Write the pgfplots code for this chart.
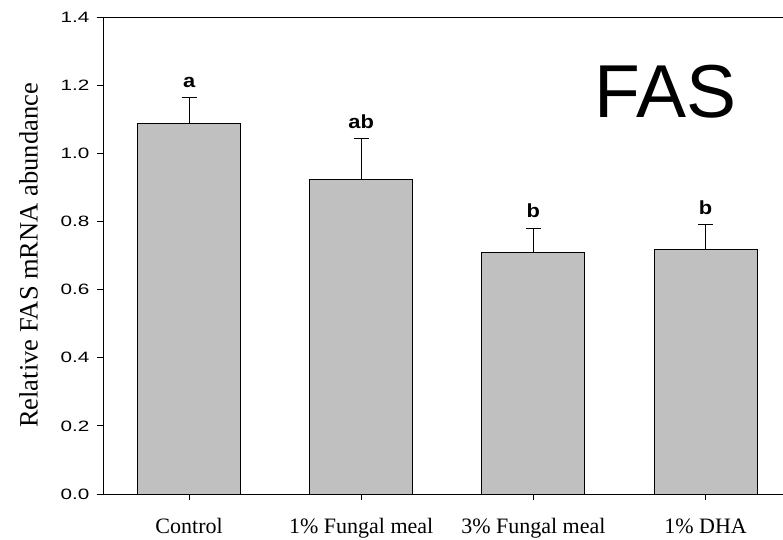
\documentclass[border=0pt]{standalone}
\usepackage{fontspec}
\setmainfont{Liberation Sans}
\newfontfamily\timesf{Liberation Serif}
\usepackage{graphicx}
\usepackage{pgfplots}
\pgfplotsset{compat=1.18}
\definecolor{barfill}{RGB}{192,192,192}
\newcommand\widen[1]{\scalebox{1.38}[1]{#1}}
\begin{document}
\begin{tikzpicture}
\begin{axis}[
  at={(0,0)}, anchor=south west,
  scale only axis, width=680pt, height=477pt,
  xmin=-0.5, xmax=3.45, ymin=0, ymax=1.4,
  axis x line*=bottom, axis y line*=left,
  axis line style={-, line width=0.8pt, black},
  tick align=outside, major tick length=6pt,
  tick style={line width=0.8pt, black},
  xtick={0,1,2,3},
  xticklabels={Control, 1\% Fungal meal, 3\% Fungal meal, 1\% DHA},
  xticklabel style={font=\timesf\fontsize{22}{22}\selectfont, yshift=-15pt},
  ytick={0,0.2,0.4,0.6,0.8,1.0,1.2,1.4},
  yticklabels={\widen{0.0},\widen{0.2},\widen{0.4},\widen{0.6},\widen{0.8},\widen{1.0},\widen{1.2},\widen{1.4}},
  yticklabel style={font=\fontsize{15}{15}\selectfont, xshift=-4pt},
  ylabel={Relative FAS mRNA abundance},
  ylabel style={font=\timesf\fontsize{26.5}{26.5}\selectfont, yshift=16pt},
  clip=false,
]
\addplot[ybar, bar width=103pt, fill=barfill, draw=black, line width=0.8pt,
  error bars/.cd, y dir=plus, y explicit,
  error bar style={line width=0.8pt, black},
  error mark options={rotate=90, mark size=7.5pt, line width=0.8pt, black}]
  coordinates {
  (0,1.088) +- (0,0.076)
  (1,0.924) +- (0,0.119)
  (2,0.708) +- (0,0.073)
  (3,0.718) +- (0,0.072)
  };
\addplot[only marks, mark=none, nodes near coords={\scalebox{1.15}[1]{\pgfplotspointmeta}}, point meta=explicit symbolic,
  every node near coord/.style={font=\bfseries\fontsize{19}{19}\selectfont, anchor=base, inner sep=0pt, yshift=10pt}]
  coordinates {
  (0,1.164) [a]
  (1,1.043) [ab]
  (2,0.781) [b]
  (3,0.790) [b]
  };
\draw[line width=0.8pt, black] ([xshift=-6pt]rel axis cs:0,1) -- (rel axis cs:1,1);
\node[anchor=base west, inner sep=0pt, font=\fontsize{75}{75}\selectfont] at (rel axis cs:0.723,0.79) {FAS};
\end{axis}
\pgfresetboundingbox
\path[use as bounding box] (-103pt,-45pt) rectangle (680pt,494pt);
\end{tikzpicture}
\end{document}
